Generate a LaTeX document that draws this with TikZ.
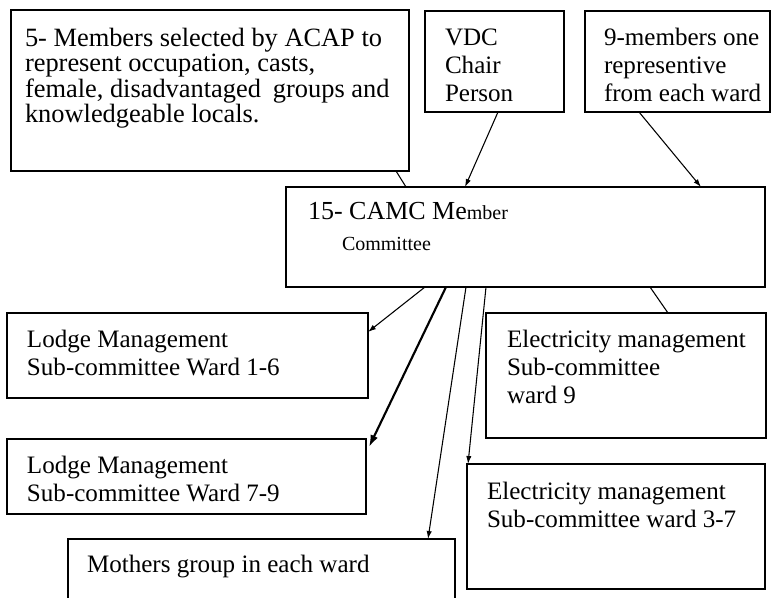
\documentclass[tikz,border=0pt]{standalone}
\usepackage{fontspec}
\setmainfont{Liberation Serif}
\usetikzlibrary{calc,arrows.meta}
\tikzset{
  box/.style n args={4}{draw, line width=1pt, outer sep=0pt, inner sep=0pt, anchor=north west, align=flush left,
    text width=#1pt, text height=#3pt, text depth=#4pt, execute at begin node={\leftskip=#2pt\relax},
    font=\fontsize{18.8}{21}\selectfont},
  conn/.style={line width=.8pt},
  arr/.style={conn, -{Latex[length=6pt,width=4pt]}},
  bigarr/.style={line width=1.6pt, -{Latex[length=9pt,width=6pt]}},
}
\begin{document}
\begin{tikzpicture}[x=.75pt,y=-.75pt]
	\useasboundingbox (0,0) rectangle (773,598); \clip (0,0) rectangle (773,598);
	\node[box={298.5}{10.5}{27.5}{93.25}, font=\fontsize{19.8}{19}\selectfont] (members5) at (11,10)
		{5- Members selected by ACAP to\\represent occupation, casts,\\female, disadvantaged\hspace{.2em} groups and\\knowledgeable locals.};
	\node[box={104.25}{15}{26}{49.75}] (vdc) at (425,11) {VDC\\Chair\\Person};
	\node[box={138.75}{14.25}{26}{49.75}] (ward9) at (585,11) {9-members one\\representive\\from each ward};
	\node[box={359.25}{16.5}{24.75}{50.25}, font=\fontsize{19.5}{23}\selectfont] (camc) at (286,187)
		{15- CAMC Me{\fontsize{15}{17}\selectfont mber}\\\hspace*{25.5pt}{\fontsize{15}{17}\selectfont Committee}};
	\node[box={270.75}{15}{25.5}{38.25}] (lodgeA) at (7,313) {Lodge Management\\Sub-committee Ward 1-6};
	\node[box={269.25}{15}{25.5}{30.75}] (lodgeB) at (7,439) {Lodge Management\\Sub-committee Ward 7-9};
	\node[box={290.25}{14.25}{24.75}{35.25}] (mothers) at (68,539) {Mothers group in each ward};
	\node[box={210}{15.75}{25.5}{68.25}] (elec9) at (486,313) {Electricity management\\Sub-committee\\ward 9};
	\node[box={223.5}{15}{26.25}{67.5}] (elec37) at (467,464) {Electricity management\\Sub-committee ward 3-7};
	
	\draw[conn] ($(members5.south west)+(385,0)$) -- ($(camc.north west)+(120,0)$);
	\draw[arr] ($(vdc.south west)+(73,0)$) -- ($(camc.north west)+(179,0)$);
	\draw[arr] ($(ward9.south west)+(54,0)$) -- ($(camc.north west)+(415,0)$);
	\draw[arr] ($(camc.south west)+(139,0)$) -- ($(lodgeA.north east)+(0,19)$);
	\draw[bigarr] ($(camc.south west)+(160,0)$) -- ($(lodgeB.north east)+(3,8)$);
	\draw[arr] ($(camc.south west)+(180,0)$) -- ($(mothers.north west)+(360,0)$);
	\draw[arr] ($(camc.south west)+(200,0)$) -- ($(elec37.north west)+(1,0)$);
	\draw[conn] ($(camc.south west)+(364,0)$) -- ($(elec9.north west)+(182,0)$);
\end{tikzpicture}
\end{document}
